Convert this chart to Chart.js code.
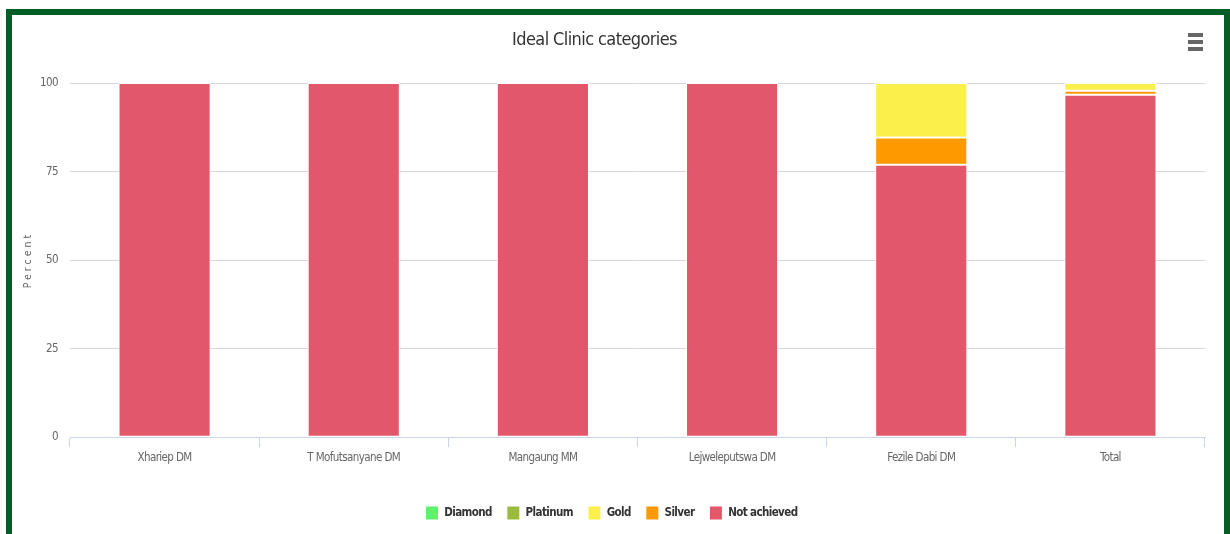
<!DOCTYPE html>
<html>
<head>
<meta charset="utf-8">
<script src="https://cdn.jsdelivr.net/npm/chart.js@4/dist/chart.umd.min.js"></script>
<style>
  html, body { margin: 0; padding: 0; background: #fff; overflow: hidden; }
  #wrap { position: absolute; left: 0; top: 0; width: 1230px; height: 534px; }
  #frame {
    position: absolute; left: 6px; top: 9px;
    width: 1212px; height: 600px;
    border: 6px solid #055e25; pointer-events: none;
  }
</style>
</head>
<body>
<div id="wrap">
  <canvas id="myChart" width="1230" height="534"></canvas>
  <div id="frame"></div>
</div>
<script>
// categories (districts) and the share of clinics in each category, percent
var districts = ["Xhariep DM", "T Mofutsanyane DM", "Mangaung MM", "Lejweleputswa DM", "Fezile Dabi DM", "Total"];
var diamond     = [0, 0, 0, 0, 0, 0];
var platinum    = [0, 0, 0, 0, 0, 0];
var gold        = [0, 0, 0, 0, 15.4, 2.2];
var silver      = [0, 0, 0, 0, 7.7, 1.1];
var notAchieved = [100, 100, 100, 100, 76.9, 96.7];
var yTicks = [0, 25, 50, 75, 100];

// condensed face, closest to the narrow font of the original
var FONT = "'DejaVu Sans Condensed', 'DejaVu Sans', sans-serif";
var TIGHT = '-0.6px';
Chart.defaults.font.family = FONT;

// squeeze the text a bit and draw the hamburger menu (export button)
var tweaks = {
  id: 'tweaks',
  beforeUpdate: function (chart) { chart.ctx.letterSpacing = TIGHT; },
  afterLayout: function (chart) {
    // title sits a little left of centre in the original
    chart.titleBlock.left -= 34;
  },
  beforeDraw: function (chart) { chart.ctx.letterSpacing = TIGHT; },
  afterDraw: function (chart) {
    var c = chart.ctx;
    c.save();
    c.fillStyle = '#666';
    [33, 40, 47].forEach(function (y) {
      c.fillRect(1188, y, 15, 4);
    });
    c.restore();
  }
};

var ctx = document.getElementById("myChart");
var myChart = new Chart(ctx, {
  type: 'bar',
  data: {
    labels: districts,
    datasets: [
      { label: 'Not achieved', data: notAchieved, backgroundColor: '#e3576a' },
      { label: 'Silver', data: silver, backgroundColor: '#ff9900' },
      { label: 'Gold', data: gold, backgroundColor: '#fbef4b' },
      { label: 'Platinum', data: platinum, backgroundColor: '#9bbb3f' },
      { label: 'Diamond', data: diamond, backgroundColor: '#5ef26b' }
    ].map(function (d) {
      d.borderColor = '#ffffff';
      d.borderWidth = 1;
      d.borderSkipped = false;
      d.categoryPercentage = 1;
      d.barPercentage = 0.487;
      return d;
    })
  },
  options: {
    responsive: false,
    animation: false,
    layout: { padding: { top: 0, right: 25, bottom: 4, left: 18 } },
    plugins: {
      title: {
        display: true,
        text: 'Ideal Clinic categories',
        color: '#333333',
        font: { size: 18, weight: 'normal' },
        padding: { top: 30, bottom: 31.4 }
      },
      legend: {
        position: 'bottom',
        reverse: true,
        labels: {
          boxWidth: 13,
          boxHeight: 14,
          padding: 15,
          color: '#333333',
          font: { size: 11.5, weight: 'bold' }
        }
      },
      tooltip: { enabled: false }
    },
    scales: {
      x: {
        stacked: true,
        afterFit: function (scale) { scale.height += 22; },
        grid: {
          offset: true,
          drawOnChartArea: false,
          drawTicks: true,
          tickLength: 10,
          color: '#ccd6eb'
        },
        border: { color: '#ccd6eb' },
        ticks: { color: '#666666', font: { size: 11.5 }, padding: 4 }
      },
      y: {
        stacked: true,
        min: 0,
        max: 100,
        afterFit: function (scale) { scale.width = 52; },
        afterBuildTicks: function (scale) {
          scale.ticks = yTicks.map(function (v) { return { value: v }; });
        },
        grid: { color: '#d8d8d8', drawTicks: false },
        border: { display: false },
        ticks: { color: '#666666', font: { size: 11.5 }, padding: 12 },
        title: {
          display: true,
          text: 'Percent',
          color: '#666666',
          font: { size: 10.5 },
          padding: { top: 4, bottom: 4 }
        }
      }
    }
  },
  plugins: [tweaks]
});

// spaced-out axis title like the original
var ys = myChart.scales.y;
var origTitle = ys.drawTitle;
ys.drawTitle = function () {
  this.ctx.letterSpacing = '3px';
  origTitle.apply(this, arguments);
  this.ctx.letterSpacing = TIGHT;
};
myChart.draw();
</script>
</body>
</html>
